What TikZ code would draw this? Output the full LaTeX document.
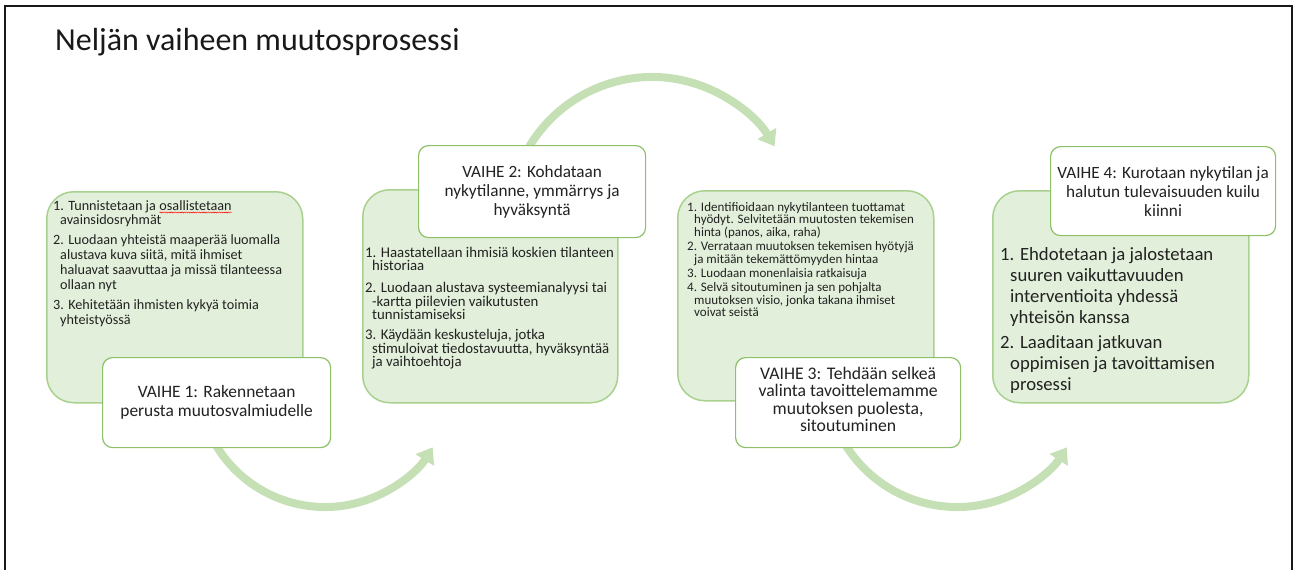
\documentclass[tikz,border=0pt]{standalone}
\usepackage{fontspec}
\setmainfont{Carlito}
\usetikzlibrary{arrows.meta,decorations.pathmorphing}

\definecolor{leaf}{HTML}{E2EFDA}
\definecolor{leafline}{HTML}{A9D18E}
\definecolor{cardline}{HTML}{8CC168}
\definecolor{flowgreen}{HTML}{C5E0B4}
\definecolor{ink}{HTML}{222222}

\tikzset{
  panel/.style={draw=leafline, fill=leaf, line width=1.5pt, rounded corners=27pt,
    inner sep=0pt, anchor=north west},
  card/.style={draw=cardline, fill=white, line width=1.2pt, rounded corners=10pt,
    inner sep=0pt, anchor=north west, align=center, text=ink},
  cardtext/.style={inner sep=0pt, align=center, text=ink},
  listtext/.style={inner sep=0pt, anchor=north west, align=left, text=ink},
  flow/.style={draw=flowgreen, line width=8pt,
    -{Triangle[length=15pt,width=21pt]}},
}

% red wavy spell-check underline under a word
\newcommand\spellmark[1]{\tikz[baseline=(sm.base)]{%
  \node[inner sep=0pt, outer sep=0pt] (sm) {#1};%
  \draw[red, line width=0.45pt, decorate,
    decoration={snake, amplitude=0.55pt, segment length=2.2pt}]
    ([yshift=-2.4pt]sm.base west) -- ([yshift=-2.4pt]sm.base east);}}
\newcommand\hang{\hspace*{7pt}}

\begin{document}
\begin{tikzpicture}[x=1pt, y=-1pt]
\useasboundingbox (0,0) rectangle (1294,570);

% outer frame (open at the bottom)
\draw[line width=2pt, black!90] (5,572) -- (5,6) -- (1292,6) -- (1292,572);

\node[anchor=base west, inner sep=0pt, text=black!90,
  font=\fontsize{32}{38}\selectfont] (title) at (55,50) {Neljän vaiheen muutosprosessi};

% circular flow arrows, starting behind the phase cards
\coordinate (c1) at (325,380);
\coordinate (c2) at (652,220);
\coordinate (c3) at (957,376);
\draw[flow] (c1) ++(160:127) coordinate (a1) arc[start angle=160, end angle=32, radius=127];
\draw[flow] (c2) ++(200:143) coordinate (a2) arc[start angle=200, end angle=329, radius=143];
\draw[flow] (c3) ++(160:131) coordinate (a3) arc[start angle=160, end angle=33, radius=131];

% green content panels
\node[panel, minimum width=256pt, minimum height=211pt] (g1) at (46,191) {};
\node[panel, minimum width=255pt, minimum height=213pt] (g2) at (362,189) {};
\node[panel, minimum width=256pt, minimum height=210pt] (g3) at (677,190) {};
\node[panel, minimum width=256pt, minimum height=212pt] (g4) at (992,190) {};

% panel texts
\node[listtext, font=\fontsize{14.2}{14.8}\selectfont] (t1) at (53,200) {%
1. Tunnistetaan ja \spellmark{osallistetaan}\\
\hang avainsidosryhmät\\[5.2pt]
2. Luodaan yhteistä maaperää luomalla\\
\hang alustava kuva siitä, mitä ihmiset\\
\hang haluavat saavuttaa ja missä tilanteessa\\
\hang ollaan nyt\\[5.2pt]
3. Kehitetään ihmisten kykyä toimia\\
\hang yhteistyössä};

\node[listtext, font=\fontsize{14.8}{13.4}\selectfont] (t2) at (365,247) {%
1. Haastatellaan ihmisiä koskien tilanteen\\
\hang historiaa\\[8.5pt]
2. Luodaan alustava systeemianalyysi tai\\
\hang -kartta piilevien vaikutusten\\
\hang tunnistamiseksi\\[6.8pt]
3. Käydään keskusteluja, jotka\\
\hang stimuloivat tiedostavuutta, hyväksyntää\\
\hang ja vaihtoehtoja};

\node[listtext, font=\fontsize{13}{12.4}\selectfont] (t3) at (687,202) {%
1. Identifioidaan nykytilanteen tuottamat\\
\hang hyödyt. Selvitetään muutosten tekemisen\\
\hang hinta (panos, aika, raha)\\[2.4pt]
2. Verrataan muutoksen tekemisen hyötyjä\\
\hang ja mitään tekemättömyyden hintaa\\[2pt]
3. Luodaan monenlaisia ratkaisuja\\[1.8pt]
4. Selvä sitoutuminen ja sen pohjalta\\
\hang muutoksen visio, jonka takana ihmiset\\
\hang voivat seistä};

\node[listtext, font=\fontsize{18.7}{21.1}\selectfont] (t4) at (1000,247) {%
1. Ehdotetaan ja jalostetaan\\
\hspace*{10pt}suuren vaikuttavuuden\\
\hspace*{10pt}interventioita yhdessä\\
\hspace*{10pt}yhteisön kanssa\\[3.7pt]
2. Laaditaan jatkuvan\\
\hspace*{10pt}oppimisen ja tavoittamisen\\
\hspace*{10pt}prosessi};

% white phase cards
\node[card, minimum width=228pt, minimum height=90pt, font=\fontsize{17.4}{19}\selectfont]
  (w1) at (102,357) {VAIHE 1: Rakennetaan\\perusta muutosvalmiudelle};
\node[card, minimum width=227pt, minimum height=92pt, font=\fontsize{17.2}{19}\selectfont]
  (w2) at (418,145) {VAIHE 2: Kohdataan\\nykytilanne, ymmärrys ja\\hyväksyntä};
\node[card, minimum width=225pt, minimum height=90pt] (w3) at (735,357) {};
\node[cardtext, font=\fontsize{17.7}{17.5}\selectfont] (w3t) at ([yshift=3pt]w3.center)
  {VAIHE 3: Tehdään selkeä\\valinta tavoittelemamme\\muutoksen puolesta,\\sitoutuminen};
\node[card, minimum width=225pt, minimum height=89pt, font=\fontsize{17.2}{19}\selectfont]
  (w4) at (1050,146) {VAIHE 4: Kurotaan nykytilan ja\\halutun tulevaisuuden kuilu\\kiinni};
\end{tikzpicture}
\end{document}
